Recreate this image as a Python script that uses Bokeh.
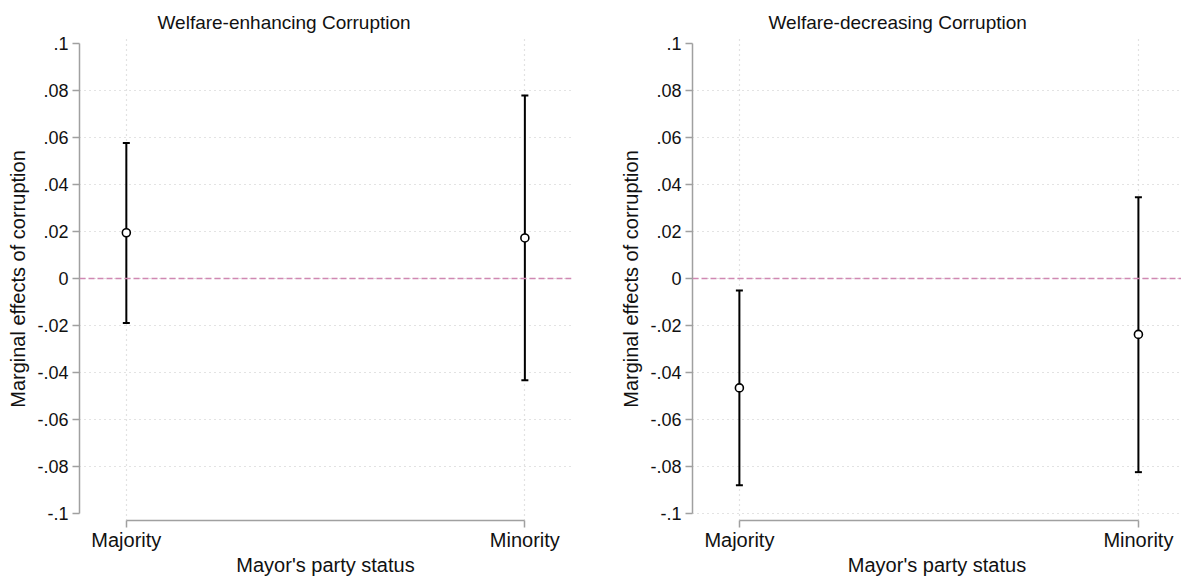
from bokeh.plotting import figure
from bokeh.layouts import row
from bokeh.models import FixedTicker, Span, Title, Range1d, ColumnDataSource
from bokeh.embed import file_html
from bokeh.resources import INLINE

# ---------------- data ----------------
categories = ["Majority", "Minority"]
panel_titles = ["Welfare-enhancing Corruption", "Welfare-decreasing Corruption"]

enh_est = [0.0195, 0.0173]
enh_lo = [-0.0190, -0.0433]
enh_hi = [0.0578, 0.0780]

dec_est = [-0.0466, -0.0238]
dec_lo = [-0.0881, -0.0825]
dec_hi = [-0.0051, 0.0346]

y_ticks = [-0.1, -0.08, -0.06, -0.04, -0.02, 0.0, 0.02, 0.04, 0.06, 0.08, 0.1]
y_tick_labels = ["-.1", "-.08", "-.06", "-.04", "-.02", "0", ".02", ".04", ".06", ".08", ".1"]

x_title = "Mayor's party status"
y_title = "Marginal effects of corruption"

FONT = "Liberation Sans"
AXIS_GRAY = "#a0a0a0"
GRID_GRAY = "#c6c6c6"
TEXT = "#111111"
ZERO_COLOR = "#d088b2"


def make_panel(title, est, lo, hi, width, left_border, right_border, x_end, grid_ticks, title_offset):
    xs = list(range(len(categories)))
    src = ColumnDataSource(dict(x=xs, est=est, lo=lo, hi=hi))
    p = figure(width=width, height=581, output_backend="svg", toolbar_location=None,
               x_range=Range1d(-0.1175, x_end), y_range=Range1d(-0.1031, 0.1027),
               min_border_left=left_border, min_border_right=right_border,
               min_border_top=37, min_border_bottom=61)
    p.outline_line_color = None
    p.background_fill_color = "white"
    p.border_fill_color = "white"

    t = Title(text=title, align="left", offset=title_offset, text_font=FONT,
              text_font_size="19px", text_font_style="normal", text_color=TEXT, standoff=10)
    p.add_layout(t, "above")

    # grids
    p.ygrid.ticker = FixedTicker(ticks=grid_ticks)
    p.xgrid.ticker = FixedTicker(ticks=xs)
    for g in (p.xgrid, p.ygrid):
        g.grid_line_color = GRID_GRAY
        g.grid_line_dash = "1 4"
        g.grid_line_width = 1.2

    # zero reference line
    p.add_layout(Span(location=0, dimension="width", line_color=ZERO_COLOR,
                      line_dash="6 3", line_width=1.5))

    # y axis
    ya = p.yaxis[0]
    ya.ticker = FixedTicker(ticks=y_ticks)
    ya.major_label_overrides = {v: s for v, s in zip(y_ticks, y_tick_labels)}
    ya.bounds = (y_ticks[0], y_ticks[-1])
    ya.axis_label = y_title
    ya.axis_label_standoff = 5
    ya.major_label_text_font_size = "18px"
    ya.major_label_standoff = 4

    # x axis
    xa = p.xaxis[0]
    xa.ticker = FixedTicker(ticks=xs)
    xa.major_label_overrides = {i: c for i, c in zip(xs, categories)}
    xa.bounds = (xs[0], xs[-1])
    xa.axis_label = x_title
    xa.axis_label_standoff = 0
    xa.major_label_text_font_size = "20px"
    xa.major_label_standoff = 1

    for a in (xa, ya):
        a.axis_label_text_font = FONT
        a.axis_label_text_font_size = "20px"
        a.axis_label_text_font_style = "normal"
        a.axis_label_text_color = TEXT
        a.major_label_text_font = FONT
        a.major_label_text_color = TEXT
        a.axis_line_color = AXIS_GRAY
        a.axis_line_width = 1.5
        a.major_tick_line_color = AXIS_GRAY
        a.major_tick_line_width = 1.5
        a.major_tick_out = 7
        a.major_tick_in = 0
        a.minor_tick_line_color = None

    # error bars
    p.segment(x0="x", y0="lo", x1="x", y1="hi", source=src, line_color="black", line_width=2)
    p.scatter(x="x", y="hi", source=src, marker="dash", size=7, line_color="black", line_width=2)
    p.scatter(x="x", y="lo", source=src, marker="dash", size=7, line_color="black", line_width=2)
    p.scatter(x="x", y="est", source=src, marker="circle", size=8, fill_color="white",
              line_color="black", line_width=1.6)
    return p


p1 = make_panel(panel_titles[0], enh_est, enh_lo, enh_hi, width=613, left_border=79,
                right_border=42, x_end=1.117, grid_ticks=y_ticks[1:-1], title_offset=78)
p2 = make_panel(panel_titles[1], dec_est, dec_lo, dec_hi, width=568, left_border=79,
                right_border=0, x_end=1.108, grid_ticks=y_ticks[:-1], title_offset=76)

layout = row(p1, p2)
open("out.html", "w").write(file_html(layout, INLINE))
